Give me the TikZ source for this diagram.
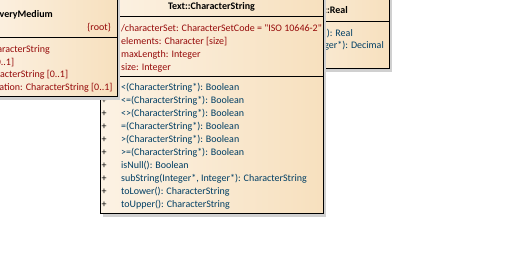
\documentclass[tikz,border=0pt]{standalone}
\usepackage{fontspec}
\setmainfont{Carlito}[Ligatures=TeXOff]
\usepackage{tikz}
\usetikzlibrary{positioning,shadows}
\definecolor{boxlight}{RGB}{252,242,228}
\definecolor{boxpeach}{RGB}{247,224,190}
\definecolor{attrred}{RGB}{150,10,10}
\definecolor{opblue}{RGB}{0,62,100}
\definecolor{shadowgrey}{RGB}{208,208,208}
\newcommand{\oprow}[1]{\makebox[19.5pt][l]{\color{black}+}#1}

\begin{document}
\begin{tikzpicture}[x=1pt,y=-1pt,
  every node/.style={font=\fontsize{10}{12}\selectfont,inner sep=0pt},
  classbox/.style={draw,line width=1pt,rectangle,left color=boxlight,right color=boxpeach,
    drop shadow={shadow xshift=3pt,shadow yshift=-3pt,fill=shadowgrey,opacity=1}},
  classname/.style={font=\bfseries\fontsize{10}{12}\selectfont},
  attr/.style={anchor=base west,text=attrred},
  op/.style={anchor=base west,text=opblue}]
\useasboundingbox (0,0) rectangle (509,275);

% Real
\node[classbox,minimum width=139pt,minimum height=79pt] (realbox) at (319.5,29.5) {};
\draw[line width=1pt] (realbox.west |- 0,22) -- (realbox.east |- 0,22);
\node[classname,anchor=base east] (realname) at (348,13.5) {s::Real};
\node[op,anchor=base east] (realop1) at (353,36.5) {(): Real};
\node[op,anchor=base east] (realop2) at (384,48.5) {eger*): Decimal};

% CharacterString
\node[classbox,minimum width=223pt,minimum height=220pt] (strbox) at (211.5,104) {};
\draw[line width=1pt] (strbox.west |- 0,17) -- (strbox.east |- 0,17);
\draw[line width=1pt] (strbox.west |- 0,77) -- (strbox.east |- 0,77);
\node[classname,anchor=base] (strname) at (211.5,9.5) {Text::CharacterString};

\node[attr] (charset) at (121,31.5) {/characterSet: CharacterSetCode = "ISO 10646-2"};
\node[attr] (elements) at (121,44.5) {elements: Character [size]};
\node[attr] (maxlength) at (121,57.5) {maxLength: Integer};
\node[attr] (size) at (121,70.5) {size: Integer};

\node[op] (oplt) at (101.5,90.5) {\oprow{<(CharacterString*): Boolean}};
\node[op] (ople) at (101.5,103.5) {\oprow{<=(CharacterString*): Boolean}};
\node[op] (opne) at (101.5,116.5) {\oprow{<>(CharacterString*): Boolean}};
\node[op] (opeq) at (101.5,129.5) {\oprow{=(CharacterString*): Boolean}};
\node[op] (opgt) at (101.5,142.5) {\oprow{>(CharacterString*): Boolean}};
\node[op] (opge) at (101.5,155.5) {\oprow{>=(CharacterString*): Boolean}};
\node[op] (isnull) at (101.5,168.5) {\oprow{isNull(): Boolean}};
\node[op] (substr) at (101.5,181.5) {\oprow{subString(Integer*, Integer*): CharacterString}};
\node[op] (tolower) at (101.5,194.5) {\oprow{toLower(): CharacterString}};
\node[op] (toupper) at (101.5,207.5) {\oprow{toUpper(): CharacterString}};

% DeliveryMedium
\node[classbox,minimum width=137pt,minimum height=107pt] (mediumbox) at (48.5,43.5) {};
\draw[line width=1pt] (mediumbox.west |- 0,38) -- (mediumbox.east |- 0,38);
\node[classname,anchor=base east] (mediumname) at (53,17.5) {veryMedium};
\node[anchor=base east,text=attrred] (root) at (111,30.5) {\{root\}};
\node[attr,anchor=base east] (mattr1) at (50,53) {aracterString};
\node[attr,anchor=base east] (mattr2) at (14.3,65.5) {[0..1]};
\node[attr,anchor=base east] (mattr3) at (68.3,78) {aracterString [0..1]};
\node[attr,anchor=base east] (mattr4) at (112.7,91) {nation: CharacterString [0..1]};
\end{tikzpicture}
\end{document}
